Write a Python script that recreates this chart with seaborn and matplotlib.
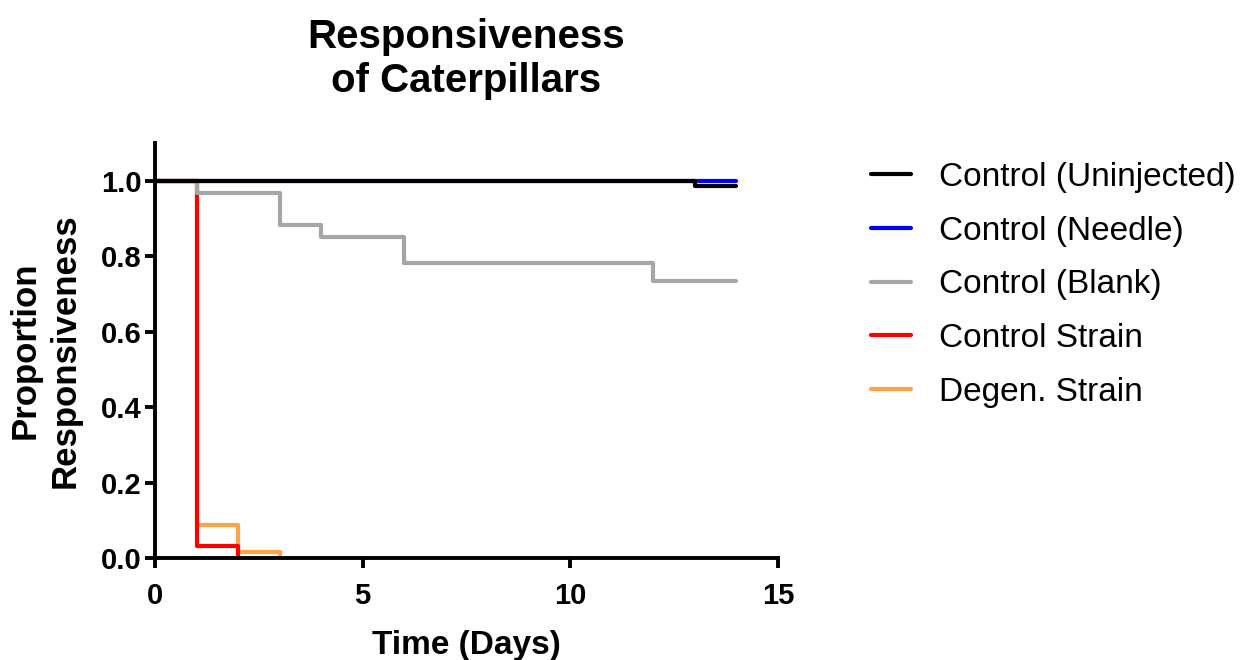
import matplotlib
matplotlib.use("Agg")
import matplotlib.pyplot as plt
import pandas as pd
import seaborn as sns

# survival-style step data
groups = ['Control (Uninjected)', 'Control (Needle)', 'Control (Blank)',
          'Control Strain', 'Degen. Strain']
colors = ['#000000', '#0000FF', '#A6A6A6', '#FF0000', '#FFA347']

days_uninjected = [0, 13, 14]
resp_uninjected = [1.0, 0.985, 0.985]
days_needle = [0, 14]
resp_needle = [1.0, 1.0]
days_blank = [0, 1, 3, 4, 6, 12, 14]
resp_blank = [1.0, 0.967, 0.883, 0.85, 0.783, 0.733, 0.733]
days_strain = [0, 1, 2]
resp_strain = [1.0, 0.033, 0.0]
days_degen = [0, 1, 2, 3]
resp_degen = [1.0, 0.087, 0.017, 0.0]

x_ticks = [0, 5, 10, 15]
y_ticks = [0.0, 0.2, 0.4, 0.6, 0.8, 1.0]

days = [days_uninjected, days_needle, days_blank, days_strain, days_degen]
resp = [resp_uninjected, resp_needle, resp_blank, resp_strain, resp_degen]
rows = []
for g, xs, ys in zip(groups, days, resp):
    for x, y in zip(xs, ys):
        rows.append({'Group': g, 'Day': x, 'Resp': y})
df = pd.DataFrame(rows)

sns.set_style("ticks", {'axes.edgecolor': 'black', 'text.color': 'black',
                        'xtick.color': 'black', 'ytick.color': 'black',
                        'axes.labelcolor': 'black'})
plt.rcParams['font.family'] = ['Liberation Sans', 'DejaVu Sans']

fig = plt.figure(figsize=(12.48, 6.6), dpi=100)
ax = fig.add_axes([0.1242, 0.1545, 0.4992, 0.6288])

# draw last group first so the black line ends up on top (like Prism)
sns.lineplot(data=df, x='Day', y='Resp', hue='Group',
             hue_order=groups[::-1], palette=colors[::-1],
             estimator=None, drawstyle='steps-post', linewidth=3,
             ax=ax, legend=True)

handles, labels = ax.get_legend_handles_labels()
ax.get_legend().remove()
handles, labels = handles[::-1], labels[::-1]
for h in handles:
    h.set_linewidth(3)

ax.set_xlim(0, 15)
ax.set_ylim(0, 1.1)
ax.set_xticks(x_ticks)
ax.set_yticks(y_ticks)
ax.set_xticklabels([str(t) for t in x_ticks])
ax.set_yticklabels(['%.1f' % t for t in y_ticks])
sns.despine(ax=ax)
for s in ['left', 'bottom']:
    ax.spines[s].set_linewidth(2.8)
ax.tick_params(width=2.8, length=7.5, labelsize=21)
ax.tick_params(axis='x', pad=10)
ax.tick_params(axis='y', pad=2)
for lab in ax.get_xticklabels() + ax.get_yticklabels():
    lab.set_fontweight('bold')

ax.set_xlabel('Time (Days)', fontsize=24, fontweight='bold', labelpad=14)
ax.set_ylabel('Proportion\nResponsiveness', fontsize=25, fontweight='bold',
              labelpad=14, linespacing=1.25)
ax.set_title('Responsiveness\nof Caterpillars', fontsize=29, fontweight='bold',
             pad=37, linespacing=1.2)

fig.legend(handles, labels, loc='upper left', bbox_to_anchor=(0.674, 0.8),
           frameon=False, fontsize=24, handlelength=1.2, handletextpad=0.85,
           labelspacing=0.68)

fig.savefig('out.png', dpi=100)
